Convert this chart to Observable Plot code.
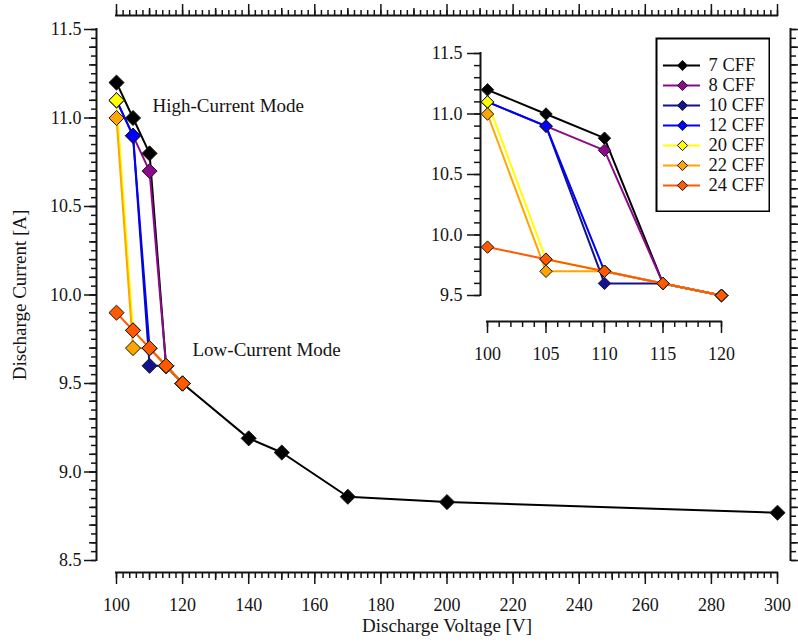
<!DOCTYPE html>
<html>
<head>
<meta charset="utf-8">
<script src="https://cdn.jsdelivr.net/npm/d3@7"></script>
<script src="https://cdn.jsdelivr.net/npm/@observablehq/plot@0.6"></script>
<style>
  body { margin: 0; background: #fff; }
  #wrap { position: relative; width: 798px; height: 642px; overflow: hidden; background: #fff; }
  #wrap > svg, #wrap > figure { position: absolute; margin: 0; }
</style>
</head>
<body>
<div id="wrap"></div>
<script>
// ---------- data ----------
const seriesNames  = ["7 CFF", "8 CFF", "10 CFF", "12 CFF", "20 CFF", "22 CFF", "24 CFF"];
const seriesColors = ["#000000", "#8b0a8b", "#12128f", "#0000ff", "#ffff00", "#ffa500", "#ff5a00"];

const voltage7  = [100, 105, 110, 115, 120, 140, 150, 170, 200, 300];
const current7  = [11.2, 11.0, 10.8, 9.6, 9.5, 9.19, 9.11, 8.86, 8.83, 8.77];
const voltage8  = [105, 110, 115, 120];
const current8  = [10.9, 10.7, 9.6, 9.5];
const voltage10 = [100, 105, 110, 115, 120];
const current10 = [11.1, 10.9, 9.6, 9.6, 9.5];
const voltage12 = [100, 105, 110, 115, 120];
const current12 = [11.1, 10.9, 9.7, 9.6, 9.5];
const voltage20 = [100, 105, 110, 115, 120];
const current20 = [11.1, 9.8, 9.7, 9.6, 9.5];
const voltage22 = [100, 105, 110, 115, 120];
const current22 = [11.0, 9.7, 9.7, 9.6, 9.5];
const voltage24 = [100, 105, 110, 115, 120];
const current24 = [9.9, 9.8, 9.7, 9.6, 9.5];

const xLabel = "Discharge Voltage [V]";
const yLabel = "Discharge Current [A]";
const annotations = [
  {text: "High-Current Mode", v: 110.9, i: 11.07},
  {text: "Low-Current Mode",  v: 123.0, i: 9.69}
];

const mainX = [100, 300], mainY = [8.5, 11.5];
const insetX = [100, 120], insetY = [9.5, 11.5];
const mainXMajor = d3.range(100, 301, 20);
const mainXMid   = d3.range(110, 300, 20);
const mainXMinor = d3.range(100, 301, 2);
const mainYMajor = [8.5, 9.0, 9.5, 10.0, 10.5, 11.0, 11.5];
const mainYMid   = d3.range(86, 115, 1).map(d => d / 10);
const mainYMinor = d3.range(170, 231, 1).map(d => d / 20);
const insetXMajor = [100, 105, 110, 115, 120];
const insetXMinor = d3.range(100, 121, 1);
const insetYMajor = [9.5, 10.0, 10.5, 11.0, 11.5];
const insetYMinor = d3.range(95, 116, 1).map(d => d / 10);

// ---------- table ----------
const pairs = [
  [voltage7, current7], [voltage8, current8], [voltage10, current10], [voltage12, current12],
  [voltage20, current20], [voltage22, current22], [voltage24, current24]
];
const rows = pairs.flatMap(([vs, cs], k) => vs.map((v, j) => ({series: seriesNames[k], v, i: cs[j]})));
const insetRows = rows.filter(d => d.v <= insetX[1]);

const FONT = "Liberation Serif";
const TXT = "#141414";
const color = {domain: seriesNames, range: seriesColors};
const fmt = d3.format(".1f");

// ---------- main chart ----------
const main = Plot.plot({
  width: 798, height: 642,
  marginLeft: 116, marginRight: 21, marginTop: 29, marginBottom: 82,
  style: {fontFamily: FONT, fontSize: "18px", color: TXT, background: "transparent"},
  x: {domain: mainX},
  y: {domain: mainY},
  color,
  marks: [
    // bottom axis
    Plot.axisX({anchor: "bottom", ticks: mainXMinor, tickSize: 6, tickFormat: () => "", dy: 12, strokeWidth: 1.5, label: null}),
    Plot.axisX({anchor: "bottom", ticks: mainXMid, tickSize: 8, tickFormat: () => "", dy: 12, strokeWidth: 1.5, label: null}),
    Plot.axisX({anchor: "bottom", ticks: mainXMajor, tickSize: 12, tickPadding: 14, tickFormat: d3.format("d"), dy: 12, strokeWidth: 1.5, fontSize: 18, label: null}),
    Plot.ruleY([mainY[0]], {x1: mainX[0], x2: mainX[1], dy: 12, strokeWidth: 2, strokeLinecap: "square"}),
    // top axis
    Plot.axisX({anchor: "top", ticks: mainXMinor, tickSize: 6, tickFormat: () => "", dy: -14, strokeWidth: 1.5, label: null}),
    Plot.axisX({anchor: "top", ticks: mainXMid, tickSize: 8, tickFormat: () => "", dy: -14, strokeWidth: 1.5, label: null}),
    Plot.axisX({anchor: "top", ticks: mainXMajor, tickSize: 12, tickFormat: () => "", dy: -14, strokeWidth: 1.5, label: null}),
    Plot.ruleY([mainY[1]], {x1: mainX[0], x2: mainX[1], dy: -14, strokeWidth: 2, strokeLinecap: "square"}),
    // left axis
    Plot.axisY({anchor: "left", ticks: mainYMinor, tickSize: 5, tickFormat: () => "", dx: -20, strokeWidth: 1.5, label: null}),
    Plot.axisY({anchor: "left", ticks: mainYMid, tickSize: 7, tickFormat: () => "", dx: -20, strokeWidth: 1.5, label: null}),
    Plot.axisY({anchor: "left", ticks: mainYMajor, tickSize: 12, tickPadding: 3, tickFormat: fmt, dx: -20, strokeWidth: 1.5, fontSize: 18, label: null}),
    Plot.ruleX([mainX[0]], {y1: mainY[0], y2: mainY[1], dx: -20, strokeWidth: 2, strokeLinecap: "square"}),
    // right axis
    Plot.axisY({anchor: "right", ticks: mainYMinor, tickSize: 5, tickFormat: () => "", dx: 13, strokeWidth: 1.5, label: null}),
    Plot.axisY({anchor: "right", ticks: mainYMid, tickSize: 7, tickFormat: () => "", dx: 13, strokeWidth: 1.5, label: null}),
    Plot.axisY({anchor: "right", ticks: mainYMajor, tickSize: 12, tickFormat: () => "", dx: 13, strokeWidth: 1.5, label: null}),
    Plot.ruleX([mainX[1]], {y1: mainY[0], y2: mainY[1], dx: 13, strokeWidth: 2, strokeLinecap: "square"}),
    // titles
    Plot.text([xLabel], {frameAnchor: "bottom", dy: 71, text: d => d, fontSize: 19, fill: TXT}),
    Plot.text([yLabel], {frameAnchor: "left", dx: -97, rotate: -90, textAnchor: "middle", text: d => d, fontSize: 19, fill: TXT}),
    // annotations
    Plot.text(annotations, {x: "v", y: "i", text: "text", textAnchor: "start", fontSize: 19, fill: TXT}),
    // data
    Plot.line(rows, {x: "v", y: "i", z: "series", stroke: "series", strokeWidth: 2}),
    Plot.dot(rows, {x: "v", y: "i", symbol: "diamond2", r: 6.8, fill: "series", stroke: "#1a1a1a", strokeWidth: 1})
  ]
});
main.style.left = "0px"; main.style.top = "0px";
document.getElementById("wrap").appendChild(main);

// ---------- inset ----------
const inset = Plot.plot({
  width: 798, height: 642,
  marginLeft: 487, marginRight: 77, marginTop: 53, marginBottom: 347,
  style: {fontFamily: FONT, fontSize: "18px", color: TXT, background: "transparent"},
  x: {domain: insetX},
  y: {domain: insetY},
  color,
  marks: [
    Plot.axisX({anchor: "bottom", ticks: insetXMinor, tickSize: 6, tickFormat: () => "", dy: 26, strokeWidth: 1.5, label: null}),
    Plot.axisX({anchor: "bottom", ticks: insetXMajor, tickSize: 12, tickPadding: 14, tickFormat: d3.format("d"), dy: 26, strokeWidth: 1.5, fontSize: 18, label: null}),
    Plot.ruleY([insetY[0]], {x1: insetX[0], x2: insetX[1], dy: 26, strokeWidth: 2, strokeLinecap: "square"}),
    Plot.axisY({anchor: "left", ticks: insetYMinor, tickSize: 6, tickFormat: () => "", dx: -7, strokeWidth: 1.5, label: null}),
    Plot.axisY({anchor: "left", ticks: insetYMajor, tickSize: 13, tickPadding: 5, tickFormat: fmt, dx: -7, strokeWidth: 1.5, fontSize: 18, label: null}),
    Plot.ruleX([insetX[0]], {y1: insetY[0], y2: insetY[1], dx: -7, strokeWidth: 2, strokeLinecap: "square"}),
    Plot.line(insetRows, {x: "v", y: "i", z: "series", stroke: "series", strokeWidth: 2}),
    Plot.dot(insetRows, {x: "v", y: "i", symbol: "diamond2", r: 5.6, fill: "series", stroke: "#1a1a1a", strokeWidth: 1})
  ]
});
inset.style.left = "0px"; inset.style.top = "0px";
document.getElementById("wrap").appendChild(inset);

// ---------- legend ----------
const legend = Plot.plot({
  width: 115, height: 175, margin: 0,
  style: {fontFamily: FONT, fontSize: "18px", color: TXT, background: "#fff"},
  y: {type: "point", domain: seriesNames, range: [16, 159], axis: null},
  color,
  marks: [
    Plot.frame({stroke: "#000", strokeWidth: 2, inset: 1}),
    Plot.ruleY(seriesNames, {y: d => d, stroke: d => d, strokeWidth: 2, insetLeft: 8, insetRight: 70}),
    Plot.dot(seriesNames, {y: d => d, frameAnchor: "left", dx: 27, symbol: "diamond2", r: 4.6, fill: d => d, stroke: "#1a1a1a", strokeWidth: 1}),
    Plot.text(seriesNames, {y: d => d, frameAnchor: "left", dx: 53, text: d => d, textAnchor: "start", fontSize: 18.5, fill: TXT})
  ]
});
legend.style.left = "655px"; legend.style.top = "37px";
document.getElementById("wrap").appendChild(legend);
</script>
</body>
</html>
